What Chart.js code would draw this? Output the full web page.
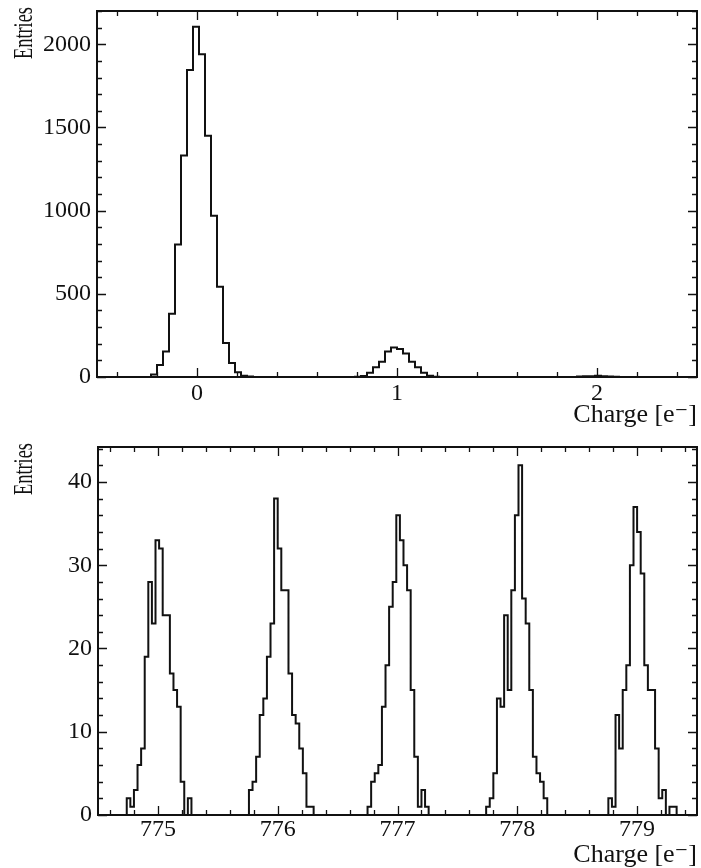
<!DOCTYPE html>
<html lang="en">
<head>
<meta charset="UTF-8">
<title>Charge histograms</title>
<script src="https://cdn.jsdelivr.net/npm/chart.js@4.4.1/dist/chart.umd.min.js"></script>
<style>
  body { margin: 0; background: #fff; }
  .pane { position: absolute; left: 0; width: 701px; }
  #topPane { top: 0; height: 432px; }
  #bottomPane { top: 432px; height: 436px; }
</style>
</head>
<body>
<div class="pane" id="topPane"><canvas id="topChart"></canvas></div>
<div class="pane" id="bottomPane"><canvas id="bottomChart"></canvas></div>
<script>
// both histograms use 0.03 e- bins
const binWidth = 0.03;

// top panel: -0.5 .. 2.5, peaks given as (first bin index, counts)
const topFirstEdge = -0.5;
const topNBins = 100;
const topPeak0Start = 9;
const topPeak0 = [15, 72, 153, 380, 797, 1331, 1845, 2106, 1940, 1450, 970, 542, 205, 84, 28, 8, 3];
const topPeak1Start = 43;
const topPeak1 = [2, 6, 26, 58, 92, 153, 177, 169, 141, 92, 58, 26, 8, 2];
const topPeak2Start = 80;
const topPeak2 = [3, 5, 4, 7, 5, 3, 1];

// bottom panel: 774.5 .. 779.5
const botFirstEdge = 774.5;
const botNBins = 167;
const bot775Start = 8;
const bot775 = [2, 1, 3, 6, 8, 19, 28, 23, 33, 32, 24, 24, 17, 15, 13, 4, 0, 2];
const bot776Start = 42;
const bot776 = [3, 4, 7, 12, 14, 19, 23, 38, 32, 27, 27, 17, 12, 11, 8, 5, 1, 1];
const bot777Start = 75;
const bot777 = [1, 4, 5, 6, 13, 18, 25, 28, 36, 33, 30, 27, 15, 7, 1, 3, 1];
const bot778Start = 108;
const bot778 = [1, 2, 5, 14, 13, 24, 15, 27, 36, 42, 26, 23, 15, 7, 5, 4, 2];
const bot779Start = 142;
const bot779 = [2, 1, 12, 8, 15, 18, 30, 37, 34, 29, 18, 15, 15, 8, 2, 3, 0, 1, 1];

// axis tick labels
const topXTicks = [0, 1, 2];
const topYTicks = [0, 500, 1000, 1500, 2000];
const botXTicks = [775, 776, 777, 778, 779];
const botYTicks = [0, 10, 20, 30, 40];

const serif = "'Liberation Serif', 'DejaVu Serif', serif";
const ink = '#111';

function fillBins(n, peaks) {
    const counts = new Array(n).fill(0);
    peaks.forEach(([start, vals]) => {
        vals.forEach((v, i) => { counts[start + i] = v; });
    });
    return counts;
}

// left-edge points + closing point, drawn as steps
function histPoints(firstEdge, counts) {
    const pts = counts.map((c, k) => ({ x: firstEdge + k * binWidth, y: c }));
    pts.push({ x: firstEdge + counts.length * binWidth, y: 0 });
    return pts;
}

// ROOT-like frame with inward ticks on all four sides, plus the y title
const frameTicks = {
    id: 'frameTicks',
    afterDatasetsDraw(chart, args, o) {
        const { ctx, chartArea: a } = chart;
        const xs = chart.scales.x, ys = chart.scales.y;
        ctx.save();
        ctx.strokeStyle = ink;
        ctx.lineWidth = 1.3;
        ctx.beginPath();
        const i0 = Math.ceil(xs.min / o.xMinor - 1e-6), i1 = Math.floor(xs.max / o.xMinor + 1e-6);
        for (let i = i0; i <= i1; i++) {
            const v = i * o.xMinor;
            const major = o.xMajor.some(m => Math.abs(m - v) < 1e-6);
            const len = major ? 9 : 5;
            const px = Math.round(xs.getPixelForValue(v)) + 0.5;
            ctx.moveTo(px, a.bottom); ctx.lineTo(px, a.bottom - len);
            ctx.moveTo(px, a.top); ctx.lineTo(px, a.top + len);
        }
        const j0 = Math.ceil(ys.min / o.yMinor - 1e-6), j1 = Math.floor(ys.max / o.yMinor + 1e-6);
        for (let j = j0; j <= j1; j++) {
            const v = j * o.yMinor;
            const major = o.yMajor.some(m => Math.abs(m - v) < 1e-6);
            const len = major ? 9 : 5;
            const py = Math.round(ys.getPixelForValue(v)) + 0.5;
            ctx.moveTo(a.left, py); ctx.lineTo(a.left + len, py);
            ctx.moveTo(a.right, py); ctx.lineTo(a.right - len, py);
        }
        ctx.stroke();
        ctx.lineWidth = 2;
        ctx.strokeRect(a.left, a.top, a.right - a.left, a.bottom - a.top);

        // "Entries": rotated, top-aligned, condensed like the original
        ctx.translate(25, a.top - 4);
        ctx.rotate(-Math.PI / 2);
        ctx.scale(0.68, 1);
        ctx.fillStyle = ink;
        ctx.font = '27px ' + serif;
        ctx.textAlign = 'right';
        ctx.textBaseline = 'middle';
        ctx.fillText('Entries', 0, 0);
        ctx.restore();
    }
};

function makeChart(id, cfg) {
    return new Chart(document.getElementById(id), {
        type: 'line',
        data: {
            datasets: [{
                data: cfg.points,
                stepped: 'before',
                borderColor: ink,
                borderWidth: 2,
                pointRadius: 0,
                fill: false
            }]
        },
        options: {
            responsive: true,
            maintainAspectRatio: false,
            animation: false,
            events: [],
            layout: { padding: { top: cfg.padTop, right: 4, left: 0, bottom: 0 } },
            plugins: {
                legend: { display: false },
                tooltip: { enabled: false },
                frameTicks: cfg.minor
            },
            scales: {
                x: {
                    type: 'linear',
                    min: cfg.xMin, max: cfg.xMax,
                    afterBuildTicks: s => { s.ticks = cfg.xTicks.map(v => ({ value: v })); },
                    afterFit: s => {
                        s.height = cfg.xAxisH;
                        s.paddingLeft = 0; s.paddingRight = 0;
                    },
                    grid: { display: false, drawTicks: false },
                    border: { display: false },
                    ticks: {
                        font: { family: serif, size: 24 },
                        color: ink,
                        padding: cfg.xTickPad,
                        maxRotation: 0,
                        autoSkip: false,
                        callback: v => String(v)
                    },
                    title: {
                        display: true,
                        text: 'Charge [e\u207B]',
                        align: 'end',
                        color: ink,
                        font: { family: serif, size: 26, lineHeight: 1 },
                        padding: { top: 0, bottom: cfg.xTitlePad }
                    }
                },
                y: {
                    type: 'linear',
                    min: 0, max: cfg.yMax,
                    afterBuildTicks: s => { s.ticks = cfg.yTicks.map(v => ({ value: v })); },
                    afterFit: s => {
                        s.width = cfg.yAxisW;
                        s.paddingTop = 0; s.paddingBottom = 0;
                    },
                    grid: { display: false, drawTicks: false },
                    border: { display: false },
                    ticks: {
                        font: { family: serif, size: 24 },
                        color: ink,
                        padding: 6,
                        callback: v => String(v)
                    }
                }
            }
        },
        plugins: [frameTicks]
    });
}

const topCounts = fillBins(topNBins, [
    [topPeak0Start, topPeak0], [topPeak1Start, topPeak1], [topPeak2Start, topPeak2]
]);
const botCounts = fillBins(botNBins, [
    [bot775Start, bot775], [bot776Start, bot776], [bot777Start, bot777],
    [bot778Start, bot778], [bot779Start, bot779]
]);

makeChart('topChart', {
    points: histPoints(topFirstEdge, topCounts),
    xMin: -0.5, xMax: 2.5, yMax: 2200,
    xTicks: topXTicks, yTicks: topYTicks,
    padTop: 11, xAxisH: 55, yAxisW: 97, xTickPad: 2, xTitlePad: 4,
    minor: { xMinor: 0.2, yMinor: 100, xMajor: topXTicks, yMajor: topYTicks }
});

makeChart('bottomChart', {
    points: histPoints(botFirstEdge, botCounts),
    xMin: 774.5, xMax: 779.5, yMax: 44.2,
    xTicks: botXTicks, yTicks: botYTicks,
    padTop: 15, xAxisH: 53, yAxisW: 98, xTickPad: 0, xTitlePad: 0,
    minor: { xMinor: 0.2, yMinor: 2, xMajor: botXTicks, yMajor: botYTicks }
});
</script>
</body>
</html>
